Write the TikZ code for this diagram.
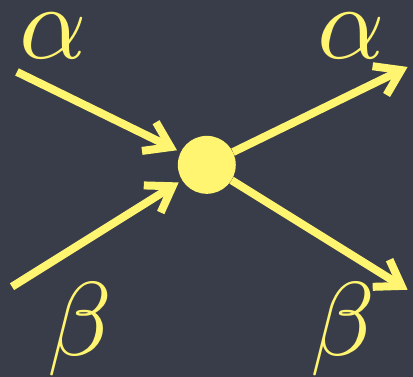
\documentclass[tikz,border=0pt]{standalone}
\usetikzlibrary{positioning,arrows.meta}

\definecolor{board}{RGB}{57,60,73}
\definecolor{chalk}{RGB}{255,245,112}

\begin{document}
\begin{tikzpicture}[x=1pt, y=-1pt,
  % Node Styles
  hub/.style={circle, fill=chalk, draw=none, minimum size=58pt, inner sep=0pt},
  greek/.style={text=chalk, inner sep=0pt, scale=10.5},
  % Arrow Styles
  flow/.style={-{Straight Barb[length=24pt, width=32pt, sharp]}, line width=8pt, draw=chalk},
]

% board
\fill[board] (0,0) rectangle (413,377);

% Vertex: alpha + beta scattering

\node[hub] (hub) at (207,165) {};

\coordinate (alphaIn) at (17,72);
\coordinate (betaIn) at (12,287);
\coordinate (alphaOut) at (408,67);
\coordinate (betaOut) at (408,290);

\node[greek] (alphaInLbl) at (53,36) {$\alpha$};
\node[greek] (alphaOutLbl) at (352,36) {$\alpha$};
\node[greek] (betaInLbl) at (80,330) {$\beta$};
\node[greek] (betaOutLbl) at (343,330) {$\beta$};

\draw[flow, shorten >=4pt] (alphaIn) -- (hub);
\draw[flow, shorten >=4pt] (betaIn) -- (hub);
\draw[flow] (hub) -- (alphaOut);
\draw[flow] (hub) -- (betaOut);

\end{tikzpicture}
\end{document}
